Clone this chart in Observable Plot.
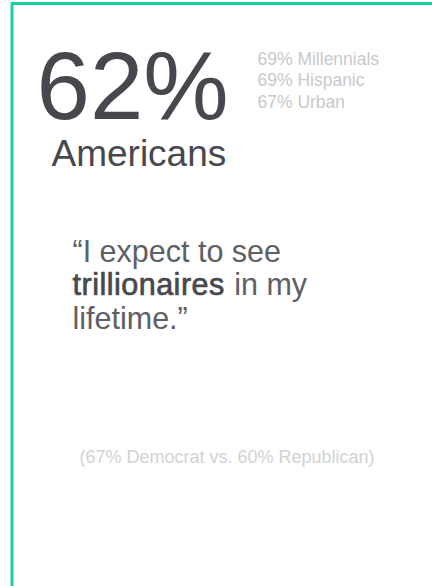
<!DOCTYPE html>
<html>
<head>
<meta charset="utf-8">
<script src="https://cdn.jsdelivr.net/npm/d3@7"></script>
<script src="https://cdn.jsdelivr.net/npm/@observablehq/plot@0.6"></script>
<style>
  html, body { margin: 0; padding: 0; background: #fff; }
  #chart svg { display: block; }
</style>
</head>
<body>
<div id="chart"></div>
<script>
// ---- data ----
const mainShare = [62];
const mainGroup = ["Americans"];
const segmentNames = ["Millennials", "Hispanic", "Urban"];
const segmentShares = [69, 69, 67];
const quoteLines = ["“I expect to see", "trillionaires in my", "lifetime.”"];
const quoteEmphasis = "trillionaires";
const parties = ["Democrat", "Republican"];
const partyShares = [67, 60];

// ---- layout ----
const W = 432, H = 586;
const FONT = "Liberation Sans, Arial, Helvetica, sans-serif";
const DARK = "#46484e";
const QUOTE = "#5d6065";
const LIGHT = "#c9c9c9";
const GREEN = "#19cfa0";

const quoteSize = 30.5;
const emphSpacing = 0.5;
const ctx = document.createElement("canvas").getContext("2d");
ctx.font = `${quoteSize}px "Liberation Sans"`;
const emphW = ctx.measureText(quoteEmphasis + " ").width + emphSpacing * quoteEmphasis.length;

const segments = segmentNames.map((name, i) => ({name, share: segmentShares[i], i}));
const line2Rest = quoteLines[1].slice(quoteEmphasis.length).trim();
const otherQuote = [
  {text: quoteLines[0], row: 0},
  {text: quoteLines[2], row: 2}
];
const partyText = [`(${partyShares[0]}% ${parties[0]} vs. ${partyShares[1]}% ${parties[1]})`];

const qx = 72, qy0 = 261.5, qStep = 33.3;

const chart = Plot.plot({
  width: W,
  height: H,
  margin: 0,
  style: {fontFamily: FONT, background: "#fff"},
  x: {domain: [0, W], range: [0, W], axis: null},
  y: {domain: [0, H], range: [0, H], axis: null},
  marks: [
    Plot.frame({stroke: GREEN, strokeWidth: 3, insetLeft: 11.5, insetTop: 3, insetRight: -20, insetBottom: -20}),
    Plot.text(mainShare, {x: 36, y: 118, text: d => `${d}%`, fontSize: 96, fill: DARK, textAnchor: "start", lineAnchor: "bottom"}),
    Plot.text(mainGroup, {x: 51, y: 165, text: d => d, fontSize: 37, fill: DARK, textAnchor: "start", lineAnchor: "bottom"}),
    Plot.text(segments, {x: 257, y: d => 64 + d.i * 21.5, text: d => `${d.share}% ${d.name}`, fontSize: 17.5, fill: LIGHT, textAnchor: "start", lineAnchor: "bottom"}),
    Plot.text(otherQuote, {x: qx, y: d => qy0 + d.row * qStep, text: "text", fontSize: quoteSize, fill: QUOTE, textAnchor: "start", lineAnchor: "bottom"}),
    Plot.text([quoteEmphasis], {x: qx, y: qy0 + qStep, text: d => d, fontSize: quoteSize, fill: DARK, stroke: DARK, strokeWidth: 0.7, textAnchor: "start", lineAnchor: "bottom"}),
    Plot.text([line2Rest], {x: qx + emphW + 1, y: qy0 + qStep, text: d => d, fontSize: quoteSize, fill: QUOTE, textAnchor: "start", lineAnchor: "bottom"}),
    Plot.text(partyText, {x: 226.5, y: 462.5, text: d => d, fontSize: 18, fill: "#d2d2d2", textAnchor: "middle", lineAnchor: "bottom"})
  ]
});
// slight letter spacing on the emphasised word
d3.select(chart).selectAll("text").filter(function() { return this.textContent === quoteEmphasis; })
  .attr("letter-spacing", emphSpacing);
document.getElementById("chart").appendChild(chart);
</script>
</body>
</html>
